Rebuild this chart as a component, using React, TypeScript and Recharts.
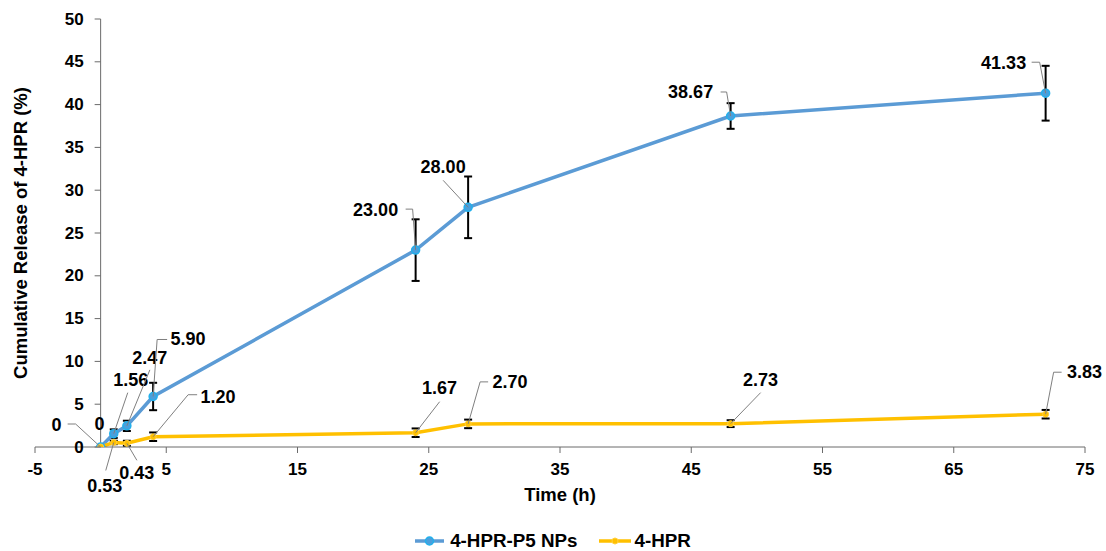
import React from 'react';
import {
  LineChart, Line, XAxis, YAxis, ErrorBar, LabelList, ReferenceLine, Legend,
} from 'recharts';

const times = [0, 1, 2, 4, 24, 28, 48, 72];
const nanoRelease = [0, 1.56, 2.47, 5.9, 23.0, 28.0, 38.67, 41.33];
const nanoError = [0, 0.5, 0.6, 1.6, 3.6, 3.6, 1.5, 3.2];
const freeRelease = [0, 0.53, 0.43, 1.2, 1.67, 2.7, 2.73, 3.83];
const freeError = [0, 0.2, 0.3, 0.5, 0.5, 0.5, 0.4, 0.5];
const xTicks = [-5, 5, 15, 25, 35, 45, 55, 65, 75];
const yTicks = [0, 5, 10, 15, 20, 25, 30, 35, 40, 45, 50];
const seriesNames = ['4-HPR-P5 NPs', '4-HPR'];
const xTitle = 'Time (h)';
const yTitle = 'Cumulative Release of 4-HPR (%)';

// label layout (pixel offsets of label centre and leader line points relative to the point)
type Lay = { dx: number; dy: number; leader: number[][] };
const nanoLabelLayout: Lay[] = [
  { dx: -1, dy: -23, leader: [] },
  { dx: 17, dy: -54, leader: [[14, -41]] },
  { dx: 23, dy: -68, leader: [[23, -56]] },
  { dx: 35, dy: -57, leader: [[4, -57], [14, -57]] },
  { dx: -40, dy: -40, leader: [[-3, -41], [-10, -41]] },
  { dx: -25, dy: -40, leader: [[-25, -27]] },
  { dx: -40, dy: -24, leader: [[-4, -24], [-10, -24]] },
  { dx: -42, dy: -30, leader: [[-6, -31], [-14, -31]] },
];
const freeLabelLayout: Lay[] = [
  { dx: -44, dy: -22, leader: [[-25, -23], [-33, -23]] },
  { dx: -9, dy: 44, leader: [[-8, 28]] },
  { dx: 10, dy: 30, leader: [[10, 17]] },
  { dx: 65, dy: -40, leader: [[35, -42], [44, -42]] },
  { dx: 24, dy: -45, leader: [[24, -31]] },
  { dx: 42, dy: -42, leader: [[12, -42], [20, -42]] },
  { dx: 30, dy: -44, leader: [[30, -31]] },
  { dx: 39, dy: -42, leader: [[8, -42], [16, -42]] },
];

const data = times.map((t, i) => ({
  t,
  nano: nanoRelease[i],
  nanoErr: nanoError[i],
  free: freeRelease[i],
  freeErr: freeError[i],
}));

const W = 1106;
const H = 551;
const M = { top: 19, right: 21, left: 0, bottom: 0 };
const Y_W = 35;
const LEG_H = 24;
const X_H = 80;
const FONT = '"Liberation Sans", Arial, sans-serif';
const BLUE = '#5B9BD5';
const YELLOW = '#FFC000';
const AXIS = '#6b6b6b';

const plotLeft = M.left + Y_W;
const plotWidth = W - plotLeft - M.right;
const x0 = plotLeft + (plotWidth * (0 - xTicks[0])) / (xTicks[xTicks.length - 1] - xTicks[0]);

const fmt = (v: number) => (v === 0 ? '0' : v.toFixed(2));

const makeLabel = (layout: Lay[]) => (props: any) => {
  const { x, y, value, index } = props;
  const l = layout[index];
  if (!l) return null;
  const pts = [[x, y], ...l.leader.map(([a, b]) => [x + a, y + b])];
  return (
    <g>
      {l.leader.length > 0 && (
        <polyline
          points={pts.map((p) => p.join(',')).join(' ')}
          fill="none"
          stroke="#7f7f7f"
          strokeWidth={1}
        />
      )}
      <text
        x={x + l.dx}
        y={y + l.dy}
        textAnchor="middle"
        dominantBaseline="central"
        fontFamily={FONT}
        fontWeight={700}
        fontSize={18}
        fill="#000"
      >
        {fmt(Number(value))}
      </text>
    </g>
  );
};

const YTick = (props: any) => {
  const { y, payload } = props;
  return (
    <g>
      <line x1={x0 - 6} x2={x0} y1={y} y2={y} stroke={AXIS} strokeWidth={1} />
      <text
        x={x0 - 17}
        y={y}
        textAnchor="end"
        dominantBaseline="central"
        fontFamily={FONT}
        fontWeight={700}
        fontSize={17}
        fill="#000"
      >
        {payload.value}
      </text>
    </g>
  );
};

const XTick = (props: any) => {
  const { x, y, payload } = props;
  return (
    <text
      x={x}
      y={y}
      dy={14}
      textAnchor="middle"
      dominantBaseline="central"
      fontFamily={FONT}
      fontWeight={700}
      fontSize={17}
      fill="#000"
    >
      {payload.value}
    </text>
  );
};

const LegendContent = () => (
  <div
    style={{
      display: 'flex',
      justifyContent: 'center',
      alignItems: 'center',
      height: LEG_H,
      fontFamily: FONT,
      fontWeight: 700,
      fontSize: 18.8,
      color: '#000',
      paddingTop: 2,
    }}
  >
    <svg width={29} height={12} style={{ marginRight: 6 }}>
      <line x1={0} x2={29} y1={6} y2={6} stroke={BLUE} strokeWidth={3.5} />
      <circle cx={14.5} cy={6} r={4} fill="#4A9FDC" stroke="#22B0EC" strokeWidth={1.5} />
    </svg>
    <span>{seriesNames[0]}</span>
    <svg width={32} height={12} style={{ marginLeft: 22, marginRight: 3 }}>
      <line x1={0} x2={32} y1={6} y2={6} stroke={YELLOW} strokeWidth={3.5} />
      <circle cx={16} cy={6} r={3} fill={YELLOW} stroke="#FFD040" strokeWidth={1} />
    </svg>
    <span>{seriesNames[1]}</span>
  </div>
);

const titleStyle = { fontFamily: FONT, fontWeight: 700, fontSize: 18.5, fill: '#000' };

export default function App() {
  return (
    <div style={{ position: 'absolute', left: 0, top: 0, width: W, height: H, background: '#fff' }}>
      <LineChart width={W} height={H} data={data} margin={M}>
        <XAxis
          type="number"
          dataKey="t"
          domain={[xTicks[0], xTicks[xTicks.length - 1]]}
          ticks={xTicks}
          allowDataOverflow
          height={X_H}
          tickSize={6}
          tickLine={{ stroke: AXIS }}
          axisLine={{ stroke: AXIS }}
          tick={<XTick />}
          label={{
            content: (p: any) => {
              const vb = p.viewBox;
              return (
                <text
                  x={vb.x + vb.width / 2}
                  y={vb.y + 47}
                  textAnchor="middle"
                  dominantBaseline="central"
                  {...titleStyle}
                >
                  {xTitle}
                </text>
              );
            },
          }}
        />
        <YAxis
          type="number"
          domain={[yTicks[0], yTicks[yTicks.length - 1]]}
          ticks={yTicks}
          allowDataOverflow
          width={Y_W}
          axisLine={false}
          tickLine={false}
          tick={<YTick />}
          label={{
            content: (p: any) => {
              const vb = p.viewBox;
              const cx = 20;
              const cy = vb.y + vb.height / 2;
              return (
                <text
                  x={cx}
                  y={cy}
                  textAnchor="middle"
                  dominantBaseline="central"
                  transform={`rotate(-90 ${cx} ${cy})`}
                  {...titleStyle}
                >
                  {yTitle}
                </text>
              );
            },
          }}
        />
        <ReferenceLine x={0} stroke={AXIS} strokeWidth={1} />
        <Legend verticalAlign="bottom" height={LEG_H} content={<LegendContent />} wrapperStyle={{ left: 0, width: W }} />
        <Line
          type="linear"
          dataKey="nano"
          name={seriesNames[0]}
          stroke={BLUE}
          strokeWidth={3.5}
          dot={{ r: 4, fill: '#4A9FDC', stroke: '#22B0EC', strokeWidth: 1.5 }}
          activeDot={false}
          isAnimationActive={false}
        >
          <ErrorBar dataKey="nanoErr" direction="y" width={4} stroke="#000" strokeWidth={2} />
          <LabelList dataKey="nano" content={makeLabel(nanoLabelLayout)} />
        </Line>
        <Line
          type="linear"
          dataKey="free"
          name={seriesNames[1]}
          stroke={YELLOW}
          strokeWidth={3.5}
          dot={{ r: 3, fill: YELLOW, stroke: '#FFD040', strokeWidth: 1 }}
          activeDot={false}
          isAnimationActive={false}
        >
          <ErrorBar dataKey="freeErr" direction="y" width={4} stroke="#000" strokeWidth={2} />
          <LabelList dataKey="free" content={makeLabel(freeLabelLayout)} />
        </Line>
      </LineChart>
    </div>
  );
}
